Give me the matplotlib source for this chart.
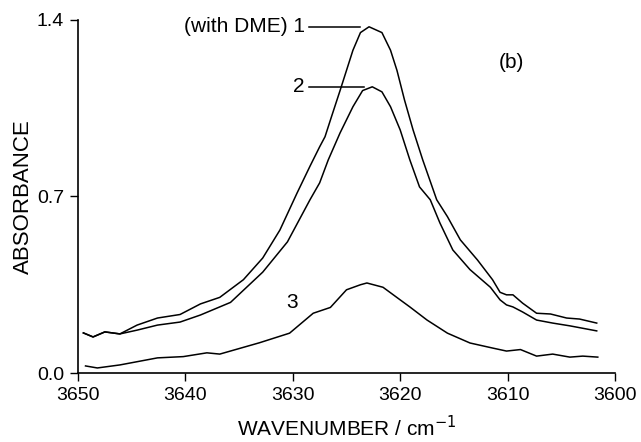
import numpy as np
import matplotlib
matplotlib.use("Agg")
import matplotlib.pyplot as plt

plt.rcParams['font.family'] = ['Liberation Sans', 'DejaVu Sans']

# spectre 1 (avec DME)
wn1 = [3649.5, 3648.6, 3647.5, 3646.1, 3644.5, 3642.6, 3640.5, 3638.6, 3636.8, 3634.6,
       3632.8, 3631.2, 3629.6, 3628.4, 3627.5, 3627.0, 3626.4, 3625.6, 3625.0, 3624.4,
       3623.7, 3622.9, 3621.7, 3620.9, 3620.3, 3619.6, 3618.8, 3617.9, 3617.2, 3616.6,
       3615.6, 3614.4, 3612.8, 3611.4, 3610.7, 3610.1, 3609.5, 3608.6, 3607.3, 3606.0,
       3604.5, 3603.3, 3601.7]
A1 = [0.159, 0.143, 0.163, 0.155, 0.190, 0.218, 0.232, 0.274, 0.300, 0.370,
      0.456, 0.567, 0.714, 0.820, 0.897, 0.937, 1.016, 1.120, 1.200, 1.280,
      1.350, 1.373, 1.350, 1.280, 1.200, 1.083, 0.964, 0.845, 0.760, 0.687,
      0.620, 0.528, 0.448, 0.370, 0.320, 0.310, 0.310, 0.277, 0.237, 0.234,
      0.218, 0.214, 0.198]

# spectre 2
wn2 = [3649.5, 3648.6, 3647.5, 3646.1, 3644.5, 3642.6, 3640.5, 3638.6, 3635.8, 3632.8,
       3630.5, 3628.4, 3627.5, 3626.7, 3625.6, 3624.4, 3623.5, 3622.6, 3621.7, 3620.9,
       3620.0, 3619.1, 3618.2, 3617.2, 3616.3, 3615.1, 3613.5, 3611.6, 3610.7, 3610.1,
       3609.5, 3608.6, 3607.3, 3605.8, 3604.2, 3601.7]
A2 = [0.159, 0.143, 0.163, 0.155, 0.170, 0.190, 0.202, 0.230, 0.280, 0.400,
      0.520, 0.687, 0.754, 0.845, 0.952, 1.056, 1.120, 1.135, 1.115, 1.056,
      0.964, 0.845, 0.738, 0.687, 0.595, 0.488, 0.410, 0.340, 0.290, 0.270,
      0.262, 0.242, 0.210, 0.198, 0.187, 0.167]

# spectre 3
wn3 = [3649.3, 3648.2, 3646.1, 3642.6, 3640.2, 3638.0, 3636.8, 3633.1, 3630.3, 3628.1,
       3626.5, 3625.0, 3623.7, 3623.1, 3621.6, 3620.0, 3619.1, 3617.5, 3615.6, 3613.5,
       3611.4, 3610.1, 3608.8, 3607.3, 3605.8, 3604.2, 3603.0, 3601.6]
A3 = [0.028, 0.020, 0.032, 0.060, 0.065, 0.080, 0.075, 0.120, 0.158, 0.237,
      0.260, 0.330, 0.350, 0.357, 0.340, 0.290, 0.262, 0.210, 0.158, 0.119,
      0.099, 0.087, 0.093, 0.067, 0.075, 0.063, 0.067, 0.063]

xticks = [3650, 3640, 3630, 3620, 3610, 3600]
yticks = [0.0, 0.7, 1.4]

fig = plt.figure(figsize=(6.41, 4.42), dpi=100)
ax = fig.add_axes([0.1217, 0.1561, 0.8377, 0.7987])

ax.plot(wn1, A1, 'k', lw=1.1)
ax.plot(wn2, A2, 'k', lw=1.1)
ax.plot(wn3, A3, 'k', lw=1.1)

# etiquettes des courbes
ax.plot([3628.5, 3623.7], [1.373, 1.373], 'k', lw=1.1)
ax.text(3628.9, 1.373, '(with DME) 1', ha='right', va='center', fontsize=15)
ax.plot([3628.5, 3623.4], [1.135, 1.135], 'k', lw=1.1)
ax.text(3628.9, 1.135, '2', ha='right', va='center', fontsize=15)
ax.text(3630.1, 0.278, '3', ha='center', va='center', fontsize=15)
ax.text(3609.6, 1.23, '(b)', ha='center', va='center', fontsize=15)

ax.set_xlim(3650, 3600)
ax.set_ylim(0, 1.4)
ax.set_xticks(xticks)
ax.set_yticks(yticks)
ax.set_yticklabels(['0.0', '0.7', '1.4'])
ax.tick_params(direction='out', length=6, width=1.0, labelsize=14, pad=4, colors='k')
ax.spines['top'].set_visible(False)
ax.spines['right'].set_visible(False)
ax.spines['left'].set_linewidth(1.2)
ax.spines['bottom'].set_linewidth(1.2)

ax.set_xlabel('WAVENUMBER / cm$^{-1}$', fontsize=15, labelpad=8)
ax.set_ylabel('ABSORBANCE', fontsize=16, labelpad=2)

plt.savefig('out.png', dpi=100)
